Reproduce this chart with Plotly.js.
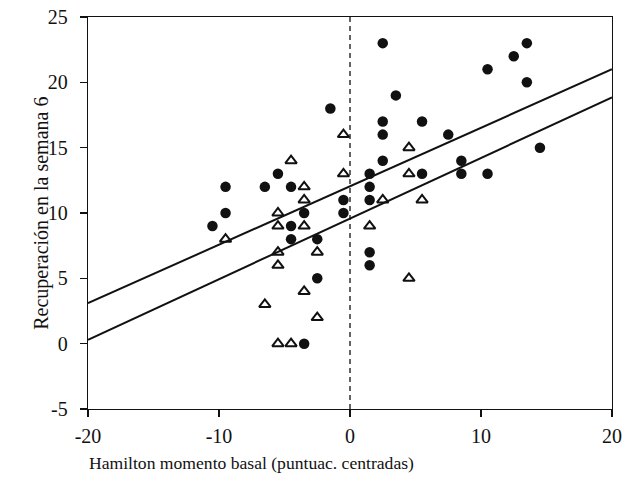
<!DOCTYPE html>
<html>
<head>
<meta charset="utf-8">
<script src="https://cdn.plot.ly/plotly-3.0.1.min.js"></script>
<style>html,body{margin:0;padding:0;background:#fff;}#chart{width:634px;height:486px;}</style>
</head>
<body>
<div id="chart"></div>
<script>
// Filled circles
var circleX = [-10.5, -9.5, -9.5, -6.5, -5.5, -4.5, -4.5, -4.5, -3.5, -2.5, -2.5, -3.5, -1.5, -0.5, -0.5, 1.5, 1.5, 1.5, 1.5, 1.5, 2.5, 2.5, 2.5, 2.5, 3.5, 5.5, 5.5, 7.5, 8.5, 8.5, 10.5, 10.5, 12.5, 13.5, 13.5, 14.5];
var circleY = [9, 12, 10, 12, 13, 12, 9, 8, 10, 8, 5, 0, 18, 11, 10, 13, 12, 11, 7, 6, 23, 17, 16, 14, 19, 17, 13, 16, 14, 13, 21, 13, 22, 23, 20, 15];
// Open triangles
var triX = [-9.5, -6.5, -5.5, -5.5, -5.5, -5.5, -5.5, -4.5, -4.5, -3.5, -3.5, -3.5, -3.5, -2.5, -2.5, -0.5, -0.5, 1.5, 2.5, 4.5, 4.5, 4.5, 5.5];
var triY = [8, 3, 10, 9, 7, 6, 0, 14, 0, 12, 11, 9, 4, 7, 2, 16, 13, 9, 11, 15, 13, 5, 11];
// Regression lines
var lineX = [-20, 20];
var upperY = [3.1, 21.0];
var lowerY = [0.3, 18.85];
// Ticks
var xTickVals = [-20, -10, 0, 10, 20];
var xTickText = ["-20", "-10", "0", "10", "20"];
var yTickVals = [-5, 0, 5, 10, 15, 20, 25];
var yTickText = ["-5", "0", "5", "10", "15", "20", "25"];

var serif = "Liberation Serif, Times New Roman, serif";

var traces = [
  {x: lineX, y: upperY, mode: "lines", line: {color: "#111", width: 2}, hoverinfo: "skip"},
  {x: lineX, y: lowerY, mode: "lines", line: {color: "#111", width: 2}, hoverinfo: "skip"},
  {x: circleX, y: circleY, mode: "markers", marker: {symbol: "circle", size: 10.5, color: "#111", line: {width: 0}}},
  {x: triX, y: triY, mode: "markers", marker: {symbol: "triangle-up-open", size: 10, color: "#111", line: {width: 2, color: "#111"}}}
];

var layout = {
  width: 634, height: 486,
  margin: {l: 88, r: 22, t: 17, b: 77},
  paper_bgcolor: "#fff", plot_bgcolor: "#fff",
  showlegend: false,
  font: {family: serif, size: 20, color: "#111"},
  xaxis: {
    range: [-20, 20], tickvals: xTickVals, ticktext: xTickText,
    ticks: "outside", ticklen: 7, tickwidth: 1.3, tickcolor: "#111",
    showline: true, linecolor: "#111", linewidth: 1.3, mirror: true,
    showgrid: false, zeroline: false,
    ticklabelstandoff: 2,
    tickfont: {family: serif, size: 20, color: "#111"}
  },
  yaxis: {
    range: [-5, 25], tickvals: yTickVals, ticktext: yTickText,
    ticks: "outside", ticklen: 7, tickwidth: 1.3, tickcolor: "#111",
    showline: true, linecolor: "#111", linewidth: 1.3, mirror: true,
    showgrid: false, zeroline: false,
    ticklabelstandoff: 8,
    tickfont: {family: serif, size: 20, color: "#111"}
  },
  shapes: [
    {type: "line", xref: "x", yref: "paper", x0: 0, x1: 0, y0: 0, y1: 1, line: {color: "#111", width: 1.3, dash: "5px,4px"}}
  ],
  annotations: [
    {text: "Recuperación en la semana 6", xref: "paper", yref: "paper", x: -0.09, y: 0.5, xanchor: "center", yanchor: "middle", textangle: -90, showarrow: false, font: {family: serif, size: 20, color: "#111"}},
    {text: "Hamilton momento basal (puntuac. centradas)", xref: "paper", yref: "paper", x: -0.002, y: -0.137, xanchor: "left", yanchor: "middle", showarrow: false, font: {family: serif, size: 17.6, color: "#111"}}
  ]
};

Plotly.newPlot("chart", traces, layout, {displayModeBar: false, staticPlot: true});
</script>
</body>
</html>
